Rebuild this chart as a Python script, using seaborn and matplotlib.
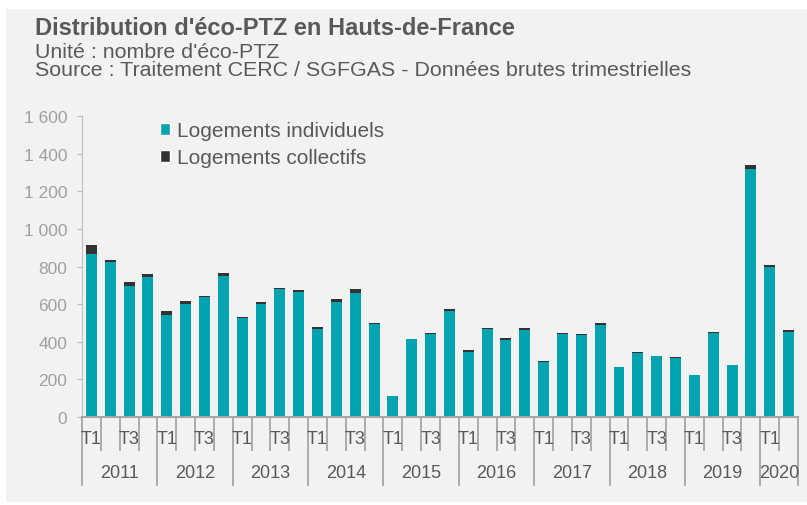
import numpy as np
import pandas as pd
import matplotlib
matplotlib.use("Agg")
import matplotlib.pyplot as plt
import matplotlib.transforms as mtransforms
from matplotlib.patches import Patch, Rectangle
from matplotlib.ticker import FuncFormatter
import seaborn as sns

# Data
years = ["2011", "2012", "2013", "2014", "2015", "2016", "2017", "2018", "2019", "2020"]
quarters_per_year = [4, 4, 4, 4, 4, 4, 4, 4, 4, 2]
quarter_names = ["T1", "T2", "T3", "T4"]
shown_quarters = ["T1", "T3"]

individuels = [
    869, 824, 699, 742,    # 2011
    544, 602, 636, 750,    # 2012
    524, 602, 682, 664,    # 2013
    468, 612, 659, 494,    # 2014
    109, 413, 443, 565,    # 2015
    348, 468, 411, 461,    # 2016
    295, 443, 438, 491,    # 2017
    265, 341, 323, 316,    # 2018
    222, 447, 276, 1318,   # 2019
    799, 452,              # 2020
]
collectifs = [
    45, 9, 18, 17,
    19, 14, 7, 15,
    7, 9, 2, 9,
    10, 15, 21, 6,
    4, 3, 4, 10,
    9, 5, 9, 12,
    5, 2, 2, 7,
    2, 2, 2, 2,
    2, 7, 2, 22,
    7, 9,
]

TEAL = "#00a3ae"
DARK = "#333333"
TEXT = "#595959"
AXIS = "#a6a6a6"

# Build the table
rows = []
for y, n in zip(years, quarters_per_year):
    for q in quarter_names[:n]:
        rows.append((y, q))
df = pd.DataFrame(rows, columns=["annee", "trimestre"])
df["periode"] = df["annee"] + " " + df["trimestre"]
df["individuels"] = individuels
df["total"] = np.array(individuels) + np.array(collectifs)

sns.set_style("white")
plt.rcParams["font.family"] = ["Liberation Sans", "DejaVu Sans"]

W, H = 807, 506
fig = plt.figure(figsize=(W / 100, H / 100), dpi=100, facecolor="white")
fig.patches.append(Rectangle((6 / W, 1 - 503 / H), 1 - 6 / W, (503 - 10) / H,
                             transform=fig.transFigure, facecolor="#f2f2f2",
                             edgecolor="none", zorder=-10))

ax = fig.add_axes([82 / W, 1 - 418 / H, (798 - 82) / W, (418 - 117) / H])
ax.set_facecolor("none")

# stacked bars: total (dark) underneath, individual on top of it
sns.barplot(data=df, x="periode", y="total", color=DARK, saturation=1,
            width=0.58, errorbar=None, linewidth=0, ax=ax)
sns.barplot(data=df, x="periode", y="individuels", color=TEAL, saturation=1,
            width=0.58, errorbar=None, linewidth=0, ax=ax)

n = len(df)
ax.set_xlim(-0.5, n - 0.5)
ax.set_ylim(0, 1600)
ax.set_yticks(np.arange(0, 1601, 200))
ax.yaxis.set_major_formatter(FuncFormatter(lambda v, p: f"{int(v):,}".replace(",", " ")))
ax.set_xlabel("")
ax.set_ylabel("")

# separators under the axis: long ones between years, short ones between quarters
bounds = np.arange(n + 1) - 0.5
year_bounds = [-0.5]
for k in quarters_per_year:
    year_bounds.append(year_bounds[-1] + k)
ax.set_xticks(year_bounds)
ax.set_xticks([b for b in bounds if b not in year_bounds], minor=True)
ax.set_xticklabels([""] * len(year_bounds))
ax.tick_params(axis="x", which="both", bottom=True, direction="out", color=AXIS, width=1.3)
ax.tick_params(axis="x", which="major", length=49.7)
ax.tick_params(axis="x", which="minor", length=24.8)
ax.tick_params(axis="y", left=True, length=3.6, width=1, color="#bfbfbf", pad=7,
               labelsize=12.5, labelcolor="#a0a0a0")

for s in ["top", "right"]:
    ax.spines[s].set_visible(False)
ax.spines["left"].set_color("#bfbfbf")
ax.spines["bottom"].set_color(AXIS)
ax.spines["bottom"].set_linewidth(1.5)

trans = mtransforms.blended_transform_factory(ax.transData, ax.transAxes)
for i, q in enumerate(df["trimestre"]):
    if q in shown_quarters:
        ax.text(i, -0.073, q, transform=trans, ha="center", va="center",
                fontsize=13, color=TEXT)
start = 0
for y, k in zip(years, quarters_per_year):
    ax.text(start + (k - 1) / 2, -0.186, y, transform=trans, ha="center",
            va="center", fontsize=13, color=TEXT)
    start += k

# legend
handles = [Patch(facecolor=TEAL, label="Logements individuels"),
           Patch(facecolor=DARK, label="Logements collectifs")]
fig.legend(handles=handles, loc="upper left", bbox_to_anchor=(160 / W, 1 - 122 / H),
           frameon=False, fontsize=15, handlelength=0.5, handleheight=0.5,
           handletextpad=0.3, labelspacing=0.4, borderpad=0, borderaxespad=0,
           labelcolor=TEXT)

# titles
fig.text(35 / W, 1 - 34.7 / H, "Distribution d'éco-PTZ en Hauts-de-France",
         fontsize=17, fontweight="bold", color=TEXT, va="baseline")
fig.text(35 / W, 1 - 58 / H, "Unité : nombre d'éco-PTZ",
         fontsize=15.4, color=TEXT, va="baseline")
fig.text(35 / W, 1 - 76.5 / H, "Source : Traitement CERC / SGFGAS - Données brutes trimestrielles",
         fontsize=15.4, color=TEXT, va="baseline")

fig.savefig("out.png", dpi=100, facecolor=fig.get_facecolor())
